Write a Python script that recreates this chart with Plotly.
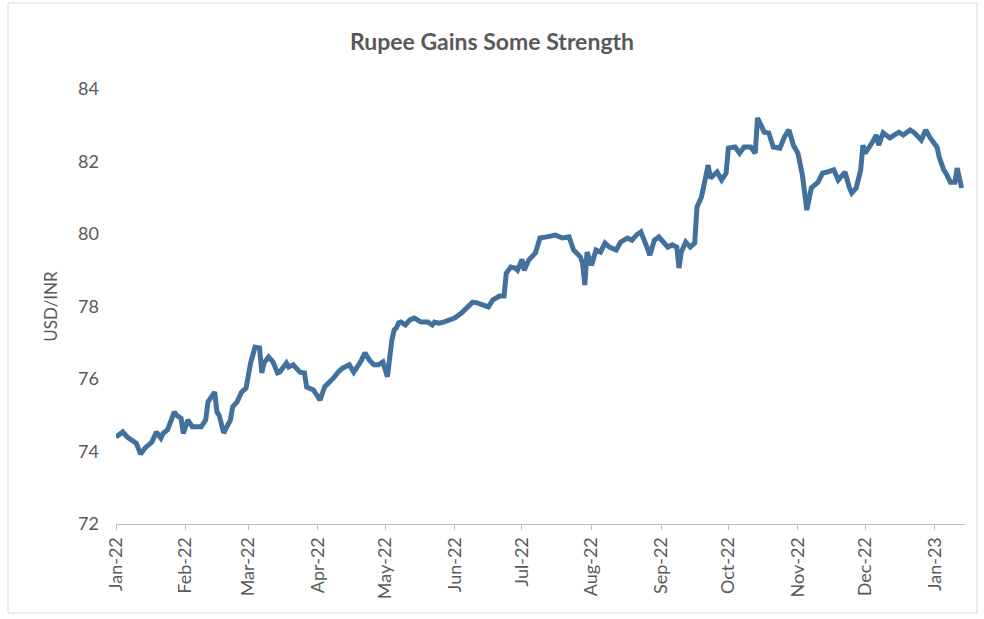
import plotly.graph_objects as go

# USD/INR daily closing rate, Jan 2022 - mid Jan 2023
dates = [
    "2022-01-01", "2022-01-04", "2022-01-06", "2022-01-10", "2022-01-12", "2022-01-14",
    "2022-01-17", "2022-01-19", "2022-01-21", "2022-01-22", "2022-01-24", "2022-01-27",
    "2022-01-28", "2022-01-30", "2022-01-31",
    "2022-02-02", "2022-02-04", "2022-02-08", "2022-02-10", "2022-02-11", "2022-02-14",
    "2022-02-15", "2022-02-16", "2022-02-18", "2022-02-21", "2022-02-22", "2022-02-24",
    "2022-02-26", "2022-02-28",
    "2022-03-02", "2022-03-04", "2022-03-06", "2022-03-07", "2022-03-08", "2022-03-10",
    "2022-03-12", "2022-03-14", "2022-03-15", "2022-03-18", "2022-03-19", "2022-03-21",
    "2022-03-23", "2022-03-24", "2022-03-26", "2022-03-27", "2022-03-30",
    "2022-04-02", "2022-04-04", "2022-04-06", "2022-04-08", "2022-04-10", "2022-04-12",
    "2022-04-15", "2022-04-17", "2022-04-20", "2022-04-22", "2022-04-24", "2022-04-26",
    "2022-04-28", "2022-04-30",
    "2022-05-02", "2022-05-03", "2022-05-04", "2022-05-05", "2022-05-06", "2022-05-07",
    "2022-05-08", "2022-05-10", "2022-05-12", "2022-05-14", "2022-05-17", "2022-05-20",
    "2022-05-22", "2022-05-23", "2022-05-25", "2022-05-27", "2022-05-30",
    "2022-06-01", "2022-06-04", "2022-06-06", "2022-06-09", "2022-06-11", "2022-06-14",
    "2022-06-16", "2022-06-18", "2022-06-21", "2022-06-23", "2022-06-24", "2022-06-26",
    "2022-06-28", "2022-06-29",
    "2022-07-01", "2022-07-02", "2022-07-04", "2022-07-07", "2022-07-09", "2022-07-12",
    "2022-07-16", "2022-07-19", "2022-07-22", "2022-07-24", "2022-07-27", "2022-07-28",
    "2022-07-29", "2022-07-30",
    "2022-08-01", "2022-08-03", "2022-08-05", "2022-08-07", "2022-08-09", "2022-08-12",
    "2022-08-14", "2022-08-17", "2022-08-19", "2022-08-21", "2022-08-23", "2022-08-25",
    "2022-08-27", "2022-08-29", "2022-08-31",
    "2022-09-02", "2022-09-04", "2022-09-06", "2022-09-08", "2022-09-09", "2022-09-10",
    "2022-09-12", "2022-09-14", "2022-09-16", "2022-09-17", "2022-09-19", "2022-09-20",
    "2022-09-21", "2022-09-22", "2022-09-23", "2022-09-26", "2022-09-28", "2022-09-30",
    "2022-10-01", "2022-10-04", "2022-10-06", "2022-10-08", "2022-10-11", "2022-10-13",
    "2022-10-14", "2022-10-17", "2022-10-19", "2022-10-21", "2022-10-24", "2022-10-26",
    "2022-10-28", "2022-10-30",
    "2022-11-01", "2022-11-03", "2022-11-05", "2022-11-07", "2022-11-10", "2022-11-12",
    "2022-11-14", "2022-11-17", "2022-11-19", "2022-11-22", "2022-11-24", "2022-11-25",
    "2022-11-27", "2022-11-29", "2022-11-30",
    "2022-12-01", "2022-12-04", "2022-12-06", "2022-12-07", "2022-12-09", "2022-12-12",
    "2022-12-14", "2022-12-16", "2022-12-18", "2022-12-21", "2022-12-23", "2022-12-26",
    "2022-12-28", "2022-12-30",
    "2023-01-02", "2023-01-03", "2023-01-05", "2023-01-06", "2023-01-08", "2023-01-10",
    "2023-01-11", "2023-01-12", "2023-01-13",
]

usd_inr = [
    74.40, 74.54, 74.40, 74.23, 73.93, 74.10,
    74.26, 74.54, 74.37, 74.50, 74.60, 75.09,
    75.00, 74.92, 74.50,
    74.87, 74.68, 74.68, 74.87, 75.37, 75.64,
    75.09, 75.00, 74.51, 74.87, 75.23, 75.37,
    75.64, 75.75,
    76.44, 76.88, 76.86, 76.17, 76.44, 76.61,
    76.47, 76.17, 76.19, 76.44, 76.33, 76.39,
    76.25, 76.19, 76.17, 75.78, 75.70,
    75.42, 75.78, 75.89, 76.03, 76.19, 76.30,
    76.39, 76.19, 76.47, 76.72, 76.52, 76.39,
    76.39, 76.47,
    76.06, 76.74, 77.08, 77.35, 77.41, 77.55,
    77.57, 77.49, 77.63, 77.68, 77.57, 77.57,
    77.49, 77.57, 77.54, 77.57, 77.63,
    77.68, 77.82, 77.96, 78.12, 78.10, 78.04,
    77.99, 78.18, 78.29, 78.29, 78.92, 79.09,
    79.06, 79.00,
    79.30, 79.00, 79.28, 79.48, 79.89, 79.92,
    79.97, 79.89, 79.92, 79.56, 79.37, 79.20,
    78.59, 79.50,
    79.14, 79.56, 79.50, 79.75, 79.64, 79.56,
    79.78, 79.89, 79.83, 79.97, 80.06, 79.75,
    79.42, 79.83, 79.92,
    79.78, 79.64, 79.70, 79.64, 79.06, 79.50,
    79.78, 79.64, 79.75, 80.74, 81.02, 81.30,
    81.54, 81.90, 81.54, 81.71, 81.49, 81.68,
    82.37, 82.40, 82.23, 82.40, 82.40, 82.23,
    83.20, 82.81, 82.79, 82.40, 82.37, 82.68,
    82.87, 82.45,
    82.23, 81.63, 80.66, 81.27, 81.43, 81.68,
    81.71, 81.77, 81.49, 81.71, 81.27, 81.13,
    81.27, 81.77, 82.45,
    82.23, 82.51, 82.73, 82.45, 82.79, 82.65,
    82.73, 82.81, 82.73, 82.87, 82.79, 82.59,
    82.87, 82.65,
    82.40, 82.12, 81.77, 81.68, 81.43, 81.43,
    81.82, 81.54, 81.27,
]

# Month ticks and value ticks
month_ticks = [
    "2022-01-01", "2022-02-01", "2022-03-01", "2022-04-01", "2022-05-01", "2022-06-01",
    "2022-07-01", "2022-08-01", "2022-09-01", "2022-10-01", "2022-11-01", "2022-12-01",
    "2023-01-01",
]
month_labels = [
    "Jan-22", "Feb-22", "Mar-22", "Apr-22", "May-22", "Jun-22",
    "Jul-22", "Aug-22", "Sep-22", "Oct-22", "Nov-22", "Dec-22", "Jan-23",
]
y_ticks = [72, 74, 76, 78, 80, 82, 84]

TEXT = "#595959"
FONT = "Lato, 'Open Sans', sans-serif"

fig = go.Figure()
fig.add_trace(go.Scatter(
    x=dates,
    y=usd_inr,
    mode="lines",
    line=dict(color="#41719C", width=5),
    hoverinfo="x+y",
))

W, H = 984, 619
ml, mr, mt, mb = 116, 19, 89, 95
pw, ph = W - ml - mr, H - mt - mb

def px_to_paper_x(px):
    return (px - ml) / pw

def px_to_paper_y(py):
    return (H - mb - py) / ph

# thin frame around the whole chart
fig.add_shape(
    type="rect", xref="paper", yref="paper",
    x0=px_to_paper_x(8), x1=px_to_paper_x(977),
    y0=px_to_paper_y(613), y1=px_to_paper_y(3),
    line=dict(color="#D9D9D9", width=1),
    fillcolor="rgba(0,0,0,0)",
    layer="below",
)

fig.update_layout(
    width=W, height=H,
    margin=dict(l=ml, r=mr, t=mt, b=mb),
    paper_bgcolor="white",
    plot_bgcolor="white",
    showlegend=False,
    font=dict(family=FONT, color=TEXT),
    title=dict(
        text="<b>Rupee Gains Some Strength</b>",
        x=0.5, xanchor="center",
        y=1 - 42 / H, yanchor="middle", yref="container",
        font=dict(size=23, color=TEXT, family=FONT),
    ),
    xaxis=dict(
        type="date",
        range=["2022-01-01", "2023-01-14 12:00"],
        tickvals=month_ticks,
        ticktext=month_labels,
        tickangle=-90,
        ticks="outside",
        ticklen=5,
        tickcolor="#BFBFBF",
        showline=True,
        linecolor="#BFBFBF",
        linewidth=1,
        showgrid=False,
        zeroline=False,
        tickfont=dict(size=18, color=TEXT, family=FONT),
    ),
    yaxis=dict(
        range=[72, 84],
        tickvals=y_ticks,
        showline=False,
        showgrid=False,
        zeroline=False,
        ticks="",
        ticklabelstandoff=16,
        tickfont=dict(size=18, color=TEXT, family=FONT),
        title=dict(text="USD/INR", font=dict(size=17, color=TEXT, family=FONT), standoff=16),
    ),
)

fig.write_html("out.html")
